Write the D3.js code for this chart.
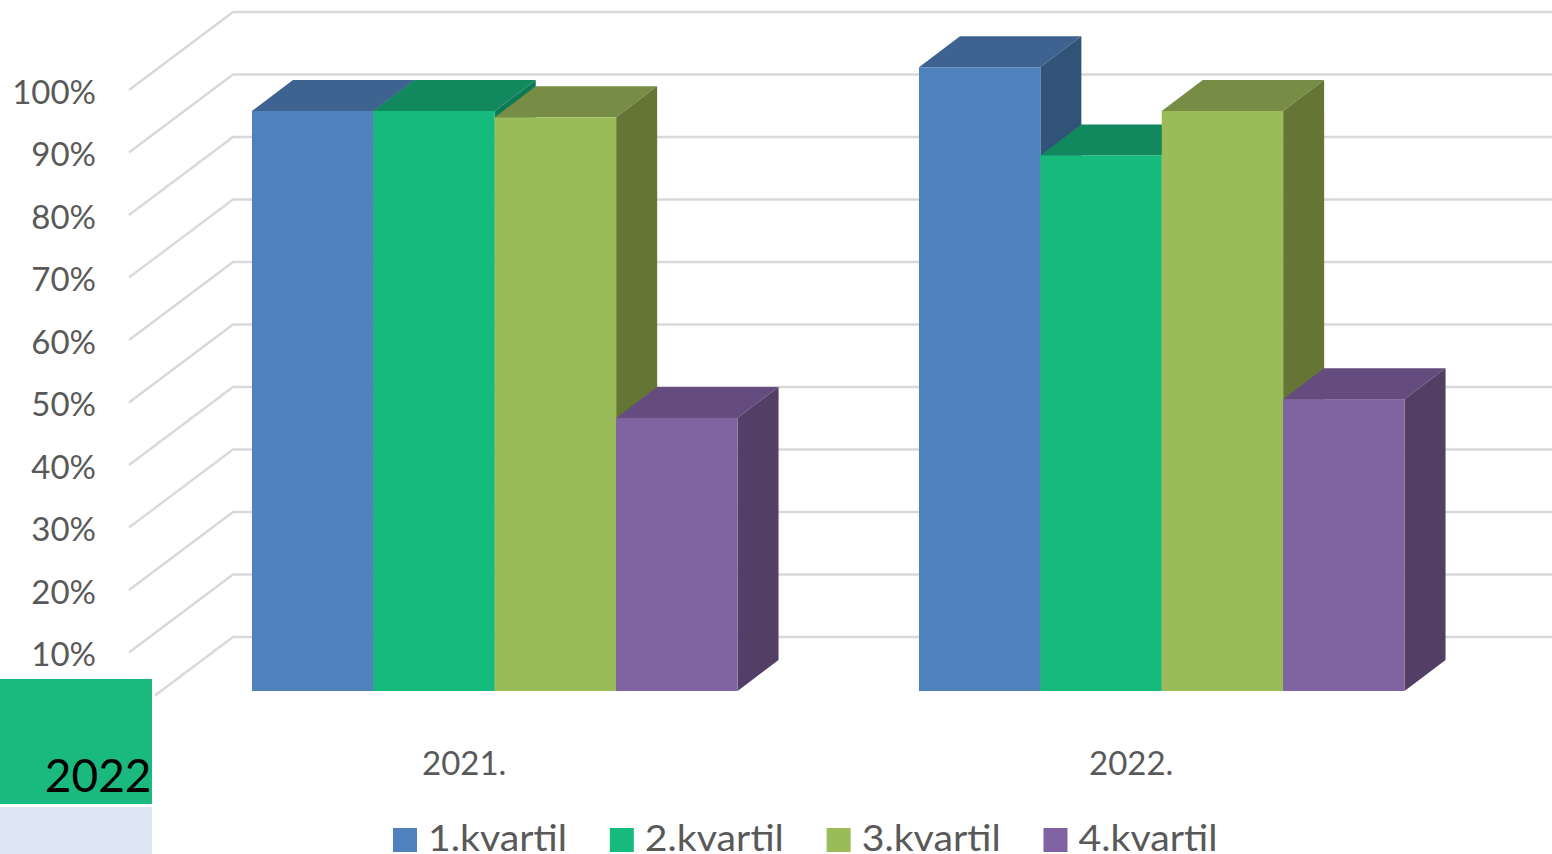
<!DOCTYPE html>
<html>
<head>
<meta charset="utf-8">
<script src="https://cdn.jsdelivr.net/npm/d3@7"></script>
<style>
html,body{margin:0;padding:0;background:#fff;overflow:hidden}
svg{display:block}
text{font-family:Lato,"Open Sans",sans-serif}
</style>
</head>
<body>
<svg id="c" width="1552" height="854"></svg>
<script>
const categories = ["2021.", "2022."];
const seriesNames = ["1.kvartil", "2.kvartil", "3.kvartil", "4.kvartil"];
const kvartil1 = [0.928, 0.998];
const kvartil2 = [0.928, 0.857];
const kvartil3 = [0.918, 0.928];
const kvartil4 = [0.437, 0.467];
const seriesValues = [kvartil1, kvartil2, kvartil3, kvartil4];
const gridTicks = [0, .1, .2, .3, .4, .5, .6, .7, .8, .9, 1];
const labelTicks = [.1, .2, .3, .4, .5, .6, .7, .8, .9, 1];
const frontColors = ["#4F81BD", "#17BA7D", "#9BBB59", "#8064A2"];
const topColors = ["#3E6390", "#12885F", "#778D45", "#644C7E"];
const sideColors = ["#325378", "#0E7A55", "#647535", "#533E66"];

const svg = d3.select("#c");
const wallDx = 104, wallDy = 78;
const plotX0 = 129;
const y = d3.scaleLinear().domain([0, 1]).range([715, 90]);

// depth offsets of the bars inside the floor
const barFrontDy = 24, barFrontDx = 32.25, barDx = 41, barDy = 31;

const x0 = d3.scaleBand().domain(categories)
  .range([plotX0 + barFrontDx, plotX0 + barFrontDx + 1334])
  .paddingInner(0.272).paddingOuter(0.136);
const x1 = d3.scaleBand().domain(seriesNames).range([0, x0.bandwidth()]);

// gridlines: side wall + back wall
const gridG = svg.append("g");
gridG.selectAll("path").data(gridTicks).join("path")
  .attr("fill", "none").attr("stroke", "#d9d9d9").attr("stroke-width", 2.4)
  .attr("d", d => {
    const yy = y(d);
    return `M${plotX0},${yy}L${plotX0 + wallDx},${yy - wallDy}L1560,${yy - wallDy}`;
  });

// y labels
const axis = d3.axisLeft(y).tickValues(labelTicks).tickFormat(d3.format(".0%")).tickSize(0).tickPadding(0);
const axG = svg.append("g").attr("transform", "translate(96,0)").call(axis);
axG.select(".domain").remove();
axG.selectAll("text")
  .attr("dy", null).attr("x", 0).attr("y", 13)
  .attr("fill", "#595959").attr("font-size", 33)
  .style("font-family", "Lato");

// bars
categories.forEach((cat, ci) => {
  seriesNames.forEach((s, si) => {
    const v = seriesValues[si][ci];
    const l = x0(cat) + x1(s), r = l + x1.bandwidth();
    const t = y(v) - barFrontDy, b = y(0) - barFrontDy;
    const g = svg.append("g");
    g.append("polygon").attr("fill", topColors[si])
      .attr("points", [[l, t], [r, t], [r + barDx, t - barDy], [l + barDx, t - barDy]].join(" "));
    g.append("polygon").attr("fill", sideColors[si])
      .attr("points", [[r, t], [r + barDx, t - barDy], [r + barDx, b - barDy], [r, b]].join(" "));
    g.append("rect").attr("fill", frontColors[si])
      .attr("x", l).attr("y", t).attr("width", r - l).attr("height", b - t);
  });
});

// category labels
svg.append("g").selectAll("text").data(categories).join("text")
  .attr("x", d => x0(d) + x0.bandwidth() / 2 - 30.5)
  .attr("y", 775).attr("text-anchor", "middle")
  .attr("fill", "#595959").attr("font-size", 33)
  .text(d => d);

// legend
const legendX = d3.scalePoint().domain(seriesNames).range([393, 1043.5]);
const lg = svg.append("g").selectAll("g").data(seriesNames).join("g")
  .attr("transform", d => `translate(${legendX(d)},828)`);
lg.append("rect").attr("width", 24).attr("height", 24)
  .attr("fill", (d, i) => frontColors[i]);
lg.append("text").attr("x", 35).attr("y", 23)
  .attr("textLength", 139).attr("lengthAdjust", "spacingAndGlyphs")
  .attr("fill", "#595959").attr("font-size", 37)
  .text(d => d);

// overlapping table cells at bottom left
svg.append("rect").attr("x", 0).attr("y", 677).attr("width", 155).attr("height", 177).attr("fill", "#fff");
svg.append("rect").attr("x", 0).attr("y", 679).attr("width", 152).attr("height", 125).attr("fill", "#1ABA7F");
svg.append("rect").attr("x", 0).attr("y", 807).attr("width", 152).attr("height", 47).attr("fill", "#DCE6F2");
svg.append("text").attr("x", 151.5).attr("y", 792).attr("text-anchor", "end")
  .attr("fill", "#000").attr("font-size", 46).text("2022");
</script>
</body>
</html>
